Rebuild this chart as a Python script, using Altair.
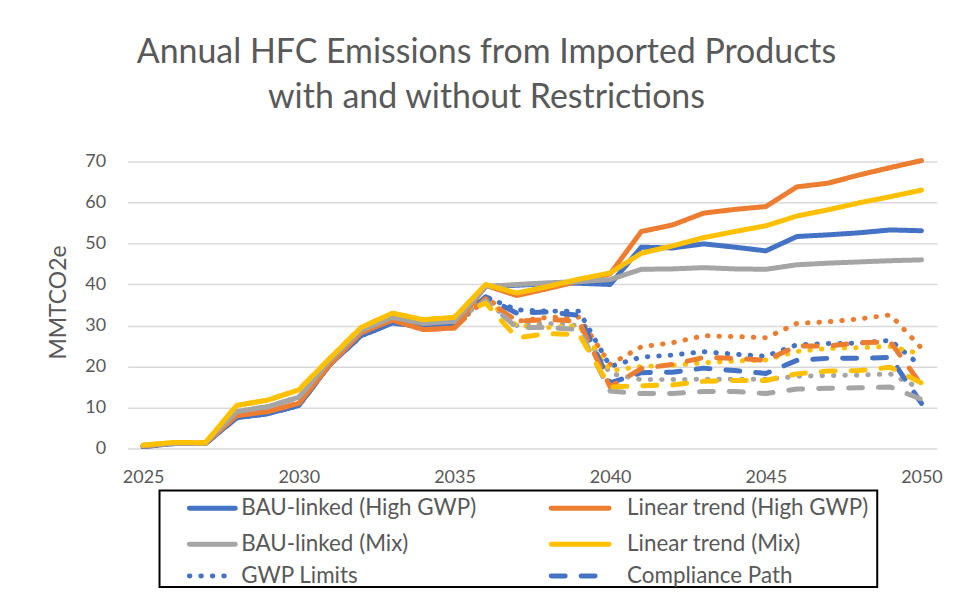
import altair as alt
import pandas as pd

years = list(range(2025, 2051))

# Solid lines (no restrictions)
bau_high = [0.5, 1.2, 1.2, 7.5, 8.5, 10.5, 20.5, 27.5, 30.6, 29.8, 30.3,
            39.5, 39.8, 40.2, 40.3, 40.0, 49.1, 48.9, 49.9, 49.1, 48.2, 51.7, 52.1, 52.6, 53.3, 53.1]
lin_high = [0.6, 1.3, 1.3, 8.0, 9.0, 11.0, 20.5, 28.2, 31.3, 29.0, 29.4,
            39.8, 37.3, 39.0, 40.8, 42.6, 52.9, 54.5, 57.4, 58.3, 59.0, 63.8, 64.7, 66.7, 68.5, 70.2]
bau_mix = [0.7, 1.3, 1.3, 9.0, 10.2, 12.5, 21.5, 28.8, 32.0, 30.5, 31.0,
           39.5, 40.0, 40.4, 40.7, 41.2, 43.7, 43.8, 44.1, 43.8, 43.7, 44.8, 45.2, 45.5, 45.8, 46.0]
lin_mix = [0.8, 1.5, 1.4, 10.5, 11.8, 14.3, 22.0, 29.5, 33.0, 31.4, 32.0,
           40.0, 37.9, 39.5, 41.3, 42.8, 47.6, 49.4, 51.4, 52.9, 54.3, 56.7, 58.2, 59.9, 61.4, 63.0]

# Dotted lines (GWP Limits)
gwp_bau_high = [0.5, 1.2, 1.2, 7.5, 8.5, 10.5, 20.5, 27.5, 30.6, 29.8, 30.3,
                37.0, 33.8, 33.5, 33.5, 20.0, 22.3, 22.8, 23.6, 23.0, 22.5, 25.3, 25.6, 25.7, 26.4, 20.0]
gwp_lin_high = [0.6, 1.3, 1.3, 8.0, 9.0, 11.0, 20.5, 28.2, 31.3, 29.0, 29.4,
                37.0, 31.0, 32.0, 32.0, 20.5, 24.8, 25.8, 27.5, 27.3, 27.0, 30.5, 30.9, 31.6, 32.6, 24.5]
gwp_bau_mix = [0.7, 1.3, 1.3, 9.0, 10.2, 12.5, 21.5, 28.8, 32.0, 30.5, 31.0,
               36.0, 30.0, 30.5, 30.0, 18.3, 16.8, 16.8, 16.9, 16.9, 16.9, 17.6, 17.8, 17.9, 18.2, 14.5]
gwp_lin_mix = [0.8, 1.5, 1.4, 10.5, 11.8, 14.3, 22.0, 29.5, 33.0, 31.4, 32.0,
               36.5, 30.0, 29.5, 30.0, 19.0, 20.0, 20.3, 20.9, 21.3, 21.6, 23.7, 24.4, 24.6, 24.9, 23.0]

# Dashed lines (Compliance Path)
cp_bau_high = [0.5, 1.2, 1.2, 7.5, 8.5, 10.5, 20.5, 27.5, 30.6, 29.8, 30.3,
               37.0, 33.0, 33.3, 32.5, 16.0, 18.5, 18.6, 19.6, 19.0, 18.3, 21.5, 22.0, 22.0, 22.2, 11.0]
cp_lin_high = [0.6, 1.3, 1.3, 8.0, 9.0, 11.0, 20.5, 28.2, 31.3, 29.0, 29.4,
               36.5, 31.0, 31.5, 31.0, 15.0, 19.5, 20.5, 22.2, 22.0, 21.5, 25.0, 25.0, 25.8, 26.0, 15.5]
cp_bau_mix = [0.7, 1.3, 1.3, 9.0, 10.2, 12.5, 21.5, 28.8, 32.0, 30.5, 31.0,
              36.0, 29.5, 29.5, 29.0, 14.0, 13.4, 13.4, 13.9, 13.9, 13.4, 14.5, 14.7, 14.8, 15.0, 12.0]
cp_lin_mix = [0.8, 1.5, 1.4, 10.5, 11.8, 14.3, 22.0, 29.5, 33.0, 31.4, 32.0,
              35.5, 27.0, 28.0, 27.8, 15.0, 15.3, 15.5, 16.4, 16.6, 16.6, 18.2, 18.9, 19.0, 19.8, 16.0]

legend_labels = ["BAU-linked (High GWP)", "Linear trend (High GWP)",
                 "BAU-linked (Mix)", "Linear trend (Mix)",
                 "GWP Limits", "Compliance Path"]

BLUE, ORANGE, GRAY, YELLOW = "#4472C4", "#ED7D31", "#A5A5A5", "#FFC000"
TXT = "#595959"
FONT = "Lato"
DOT = [0.5, 11]
DASH = [14, 16]

series = [
    ("gwp_bau_high", gwp_bau_high, BLUE, "dot"),
    ("gwp_lin_high", gwp_lin_high, ORANGE, "dot"),
    ("gwp_bau_mix", gwp_bau_mix, GRAY, "dot"),
    ("gwp_lin_mix", gwp_lin_mix, YELLOW, "dot"),
    ("cp_bau_high", cp_bau_high, BLUE, "dash"),
    ("cp_lin_high", cp_lin_high, ORANGE, "dash"),
    ("cp_bau_mix", cp_bau_mix, GRAY, "dash"),
    ("cp_lin_mix", cp_lin_mix, YELLOW, "dash"),
    ("bau_high", bau_high, BLUE, "solid"),
    ("lin_high", lin_high, ORANGE, "solid"),
    ("bau_mix", bau_mix, GRAY, "solid"),
    ("lin_mix", lin_mix, YELLOW, "solid"),
]

dash_map = {"solid": [1, 0], "dot": DOT, "dash": DASH}

x_scale = alt.Scale(domain=[2024.5, 2050.5], nice=False, zero=False)
y_scale = alt.Scale(domain=[0, 70], nice=False)

x_axis = alt.Axis(values=[2025, 2030, 2035, 2040, 2045, 2050], format="d", title=None,
                  grid=False, ticks=False, domain=False, labelFont=FONT, labelFontSize=18,
                  labelColor=TXT, labelPadding=20)
y_axis = alt.Axis(values=list(range(0, 71, 10)), title="MMTCO2e", grid=True, gridColor="#D9D9D9",
                  gridWidth=1.5, ticks=False, domain=False, labelFont=FONT, labelFontSize=18,
                  labelColor=TXT, labelPadding=22, titleFont=FONT, titleFontSize=23,
                  titleFontWeight="normal", titleColor=TXT, titleX=-69, titleY=141,
                  titleAngle=270, titleAlign="center", titleBaseline="middle")

layers = []
for name, vals, color, style in series:
    df = pd.DataFrame({"year": years, "value": vals})
    layers.append(
        alt.Chart(df).mark_line(color=color, strokeWidth=5, strokeCap="round",
                                strokeJoin="round", strokeDash=dash_map[style]).encode(
            x=alt.X("year:Q", scale=x_scale, axis=x_axis),
            y=alt.Y("value:Q", scale=y_scale, axis=y_axis),
        )
    )

# Legend (drawn below the plot)
one = pd.DataFrame({"k": [0]})
box = alt.Chart(one).mark_rect(fill="white", fillOpacity=0, stroke="black", strokeWidth=2).encode(
    x=alt.value(32), x2=alt.value(752), y=alt.value(330), y2=alt.value(427))
legend_layers = [box]
leg_colors = [BLUE, ORANGE, GRAY, YELLOW, BLUE, BLUE]
leg_styles = ["solid", "solid", "solid", "solid", "dot", "dash"]
col_x = [(62, 108, 114), (425, 483, 501)]
row_y = [348, 384, 416]
for i, label in enumerate(legend_labels):
    c, r = i % 2, i // 2
    x0, x1, xt = col_x[c]
    ln = alt.Chart(one).mark_rule(color=leg_colors[i], strokeWidth=5, strokeCap="round",
                                  strokeDash=dash_map[leg_styles[i]]).encode(
        x=alt.value(x0), x2=alt.value(x1), y=alt.value(row_y[r]))
    tx = alt.Chart(one).mark_text(text=label, align="left", baseline="middle", font=FONT,
                                  fontSize=22.5, color=TXT).encode(
        x=alt.value(xt), y=alt.value(row_y[r]))
    legend_layers += [ln, tx]

chart = alt.layer(*layers, *legend_layers).properties(
    width=812, height=288,
    autosize=alt.AutoSizeParams(type="none"),
    padding={"left": 120, "top": 153, "right": 12, "bottom": 140},
    title=alt.Title(
        text=["Annual HFC Emissions from Imported Products", "with and without Restrictions"],
        font=FONT, fontSize=34, fontWeight="normal", color=TXT, anchor="middle",
        dx=-46, offset=38, lineHeight=45),
).configure_view(stroke=None)

chart.save("out.html", embed_options={"renderer": "svg", "actions": False})
